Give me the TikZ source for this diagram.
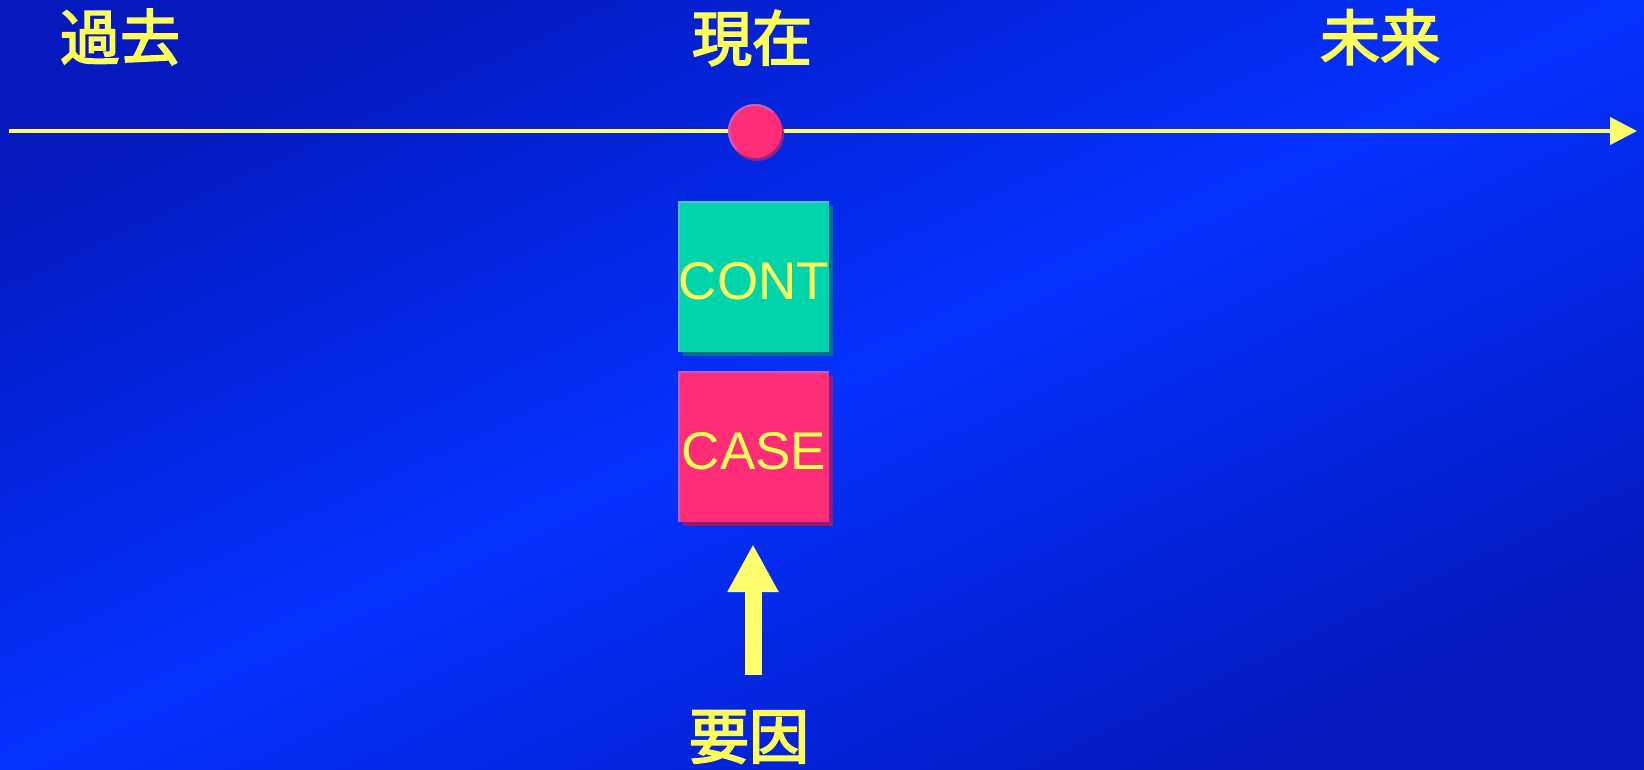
\documentclass[tikz,border=0pt]{standalone}
\usepackage{fontspec}
\setmainfont{Liberation Sans}
\newfontfamily\jpfont{Noto Sans CJK JP}[FakeBold=3]
\usetikzlibrary{arrows.meta, positioning, shadows}
\definecolor{bgDark}{HTML}{0419BE}
\definecolor{bgBright}{HTML}{0432FF}
\definecolor{axisYellow}{HTML}{FFFF6E}
\definecolor{labelYellow}{HTML}{FFFF5A}
\definecolor{dotPink}{HTML}{FF2D78}
\definecolor{dotShadow}{HTML}{9A2078}
\definecolor{dotEdge}{HTML}{C860C0}
\definecolor{contTeal}{HTML}{00D4AA}
\definecolor{contShadow}{HTML}{00708C}
\definecolor{contEdge}{HTML}{5AB8DA}
\definecolor{casePink}{HTML}{FF2D78}
\definecolor{caseShadow}{HTML}{8C1C78}
\definecolor{caseEdge}{HTML}{C55ACB}
\tikzset{
    % Axis
    timeLine/.style={draw=axisYellow, line width=4pt, -{Triangle[length=27pt, width=27pt]}},
    timeLabel/.style={text=labelYellow, inner sep=0pt, font=\jpfont\fontsize{60}{60}\selectfont},
    nowDot/.style={circle, fill=dotPink, minimum size=54pt, inner sep=0pt,
        drop shadow={shadow xshift=2pt, shadow yshift=-3pt, fill=dotShadow, opacity=1}},
    % State boxes
    stateBox/.style={rectangle, minimum size=150pt, inner sep=0pt, text=labelYellow,
        text height=46pt, font=\fontsize{53}{53}\selectfont},
    contState/.style={stateBox, fill=contTeal,
        drop shadow={shadow xshift=4pt, shadow yshift=-4pt, fill=contShadow, opacity=1}},
    caseState/.style={stateBox, fill=casePink,
        drop shadow={shadow xshift=4pt, shadow yshift=-4pt, fill=caseShadow, opacity=1}},
    % Cause arrow
    causeArrow/.style={draw=axisYellow, line width=17pt, -{Triangle[length=48pt, width=48pt]}}
}
\begin{document}
\begin{tikzpicture}[x=1pt, y=-1pt]
    % Background
    \shade[top color=bgDark, bottom color=bgDark, middle color=bgBright, shading angle=25]
        (0,0) rectangle (1644,769);
    \useasboundingbox (0,0) rectangle (1644,769);

    % Time axis
    \coordinate (axisStart) at (9,131);
    \coordinate (axisEnd) at (1637,131);
    \draw[timeLine] (axisStart) -- (axisEnd);
    \node[nowDot] (now) at (755,131) {};
    \draw[dotEdge, line width=2pt] (now.center) ++(225:26pt) arc[start angle=225, end angle=45, radius=26pt];

    \node[timeLabel] (past) at (120,37) {過去};
    \node[timeLabel] (present) at (752,38) {現在};
    \node[timeLabel] (future) at (1380,37) {未来};

    % CONT and CASE
    \node[contState] (cont) at (754,277) {CONT};
    \node[caseState] (case) at (754,447) {CASE};
    \draw[contEdge, line width=2pt] (cont.south west) -- (cont.north west) -- (cont.north east);
    \draw[caseEdge, line width=2pt] (case.south west) -- (case.north west) -- (case.north east);

    % Cause
    \node[timeLabel] (cause) at (749,737) {要因};
    \coordinate (causeTop) at (753,675);
    \draw[causeArrow] (causeTop) -- ([xshift=-1pt, yshift=-22pt]case.south);
\end{tikzpicture}
\end{document}
